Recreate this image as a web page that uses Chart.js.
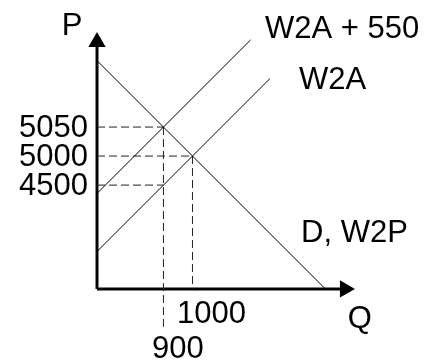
<!DOCTYPE html>
<html>
<head>
<meta charset="utf-8">
<script src="https://cdn.jsdelivr.net/npm/chart.js@4"></script>
<style>
  html, body { margin: 0; padding: 0; background: #fff; }
  #wrap { width: 435px; height: 364px; }
</style>
</head>
<body>
<div id="wrap"><canvas id="chart" width="435" height="364"></canvas></div>
<script>
// schematic units: Q axis 0..100, P axis 0..100
const qTicks = [25.75, 37];
const qTickLabels = ["900", "1000"];
const pTicks = [62.75, 51.5, 40.25];
const pTickLabels = ["5050", "5000", "4500"];
const pGuideEnds = [25.75, 37, 25.75];   // where each horizontal guide meets a curve
const qGuideEnds = [-14.7, 0];          // how far each vertical guide drops

const demand = [[0, 88.5], [88.5, 0]];
const w2a = [[0, 14.5], [67, 81.5]];
const w2a550 = [[0, 37], [59.5, 96.5]];
const axisEnd = [96.1, 95.7];

const curveLabels = [
  ["W2A + 550", 65.1, 97.3],
  ["W2A", 78.3, 77.5],
  ["D, W2P", 79.1, 18.2],
];
const axisLabels = [
  ["P", -9.7, 98.4],
  ["Q", 101.9, -15.1],
];
const qLabelPos = [[21.3, -26.7], [31, -13.2]];

const FONT = '31px "Liberation Sans", Arial, sans-serif';
const pts = (arr) => arr.map(([x, y]) => ({ x, y }));

const solid = (data, width) => ({
  data: pts(data), showLine: true, borderColor: "#000", borderWidth: width,
  pointRadius: 0, fill: false,
});
const dashed = (data) => ({
  data: pts(data), showLine: true, borderColor: "#222", borderWidth: 1,
  borderDash: [8, 4], pointRadius: 0, fill: false,
});

const datasets = [
  solid(demand, 1),
  solid(w2a, 1),
  solid(w2a550, 1),
];
pTicks.forEach((p, i) => datasets.push(dashed([[0, p], [pGuideEnds[i], p]])));
qTicks.forEach((q, i) => {
  const top = pTicks[pGuideEnds.indexOf(q)];
  datasets.push(dashed([[q, top], [q, qGuideEnds[i]]]));
});
datasets.push(solid([[0, 0], [axisEnd[0], 0]], 3));
datasets.push(solid([[0, 0], [0, axisEnd[1]]], 3));
datasets.push({
  data: [{ x: 0, y: axisEnd[1] }, { x: axisEnd[0], y: 0 }],
  showLine: false, pointStyle: "triangle", pointRadius: 10,
  rotation: [0, 90], backgroundColor: "#000", borderWidth: 0,
});

const labelPlugin = {
  id: "labels",
  afterDraw(chart) {
    const { ctx, scales: { x, y } } = chart;
    ctx.save();
    ctx.font = FONT;
    ctx.fillStyle = "#000";
    ctx.textBaseline = "alphabetic";
    ctx.textAlign = "left";
    curveLabels.forEach(([t, qx, py]) => ctx.fillText(t, x.getPixelForValue(qx), y.getPixelForValue(py)));
    qTickLabels.forEach((t, i) => ctx.fillText(t, x.getPixelForValue(qLabelPos[i][0]), y.getPixelForValue(qLabelPos[i][1])));
    ctx.textAlign = "center";
    axisLabels.forEach(([t, qx, py]) => ctx.fillText(t, x.getPixelForValue(qx), y.getPixelForValue(py)));
    ctx.textAlign = "right";
    ctx.textBaseline = "middle";
    pTickLabels.forEach((t, i) => ctx.fillText(t, x.getPixelForValue(0) - 9, y.getPixelForValue(pTicks[i]) + 1));
    ctx.restore();
  },
};

new Chart(document.getElementById("chart").getContext("2d"), {
  type: "scatter",
  data: { datasets },
  options: {
    responsive: false,
    animation: false,
    layout: { padding: 0, autoPadding: false },
    plugins: { legend: { display: false }, tooltip: { enabled: false } },
    scales: {
      x: { type: "linear", display: false, min: -37.6, max: 131 },
      y: { type: "linear", display: false, min: -29.1, max: 112 },
    },
  },
  plugins: [labelPlugin],
});
</script>
</body>
</html>
